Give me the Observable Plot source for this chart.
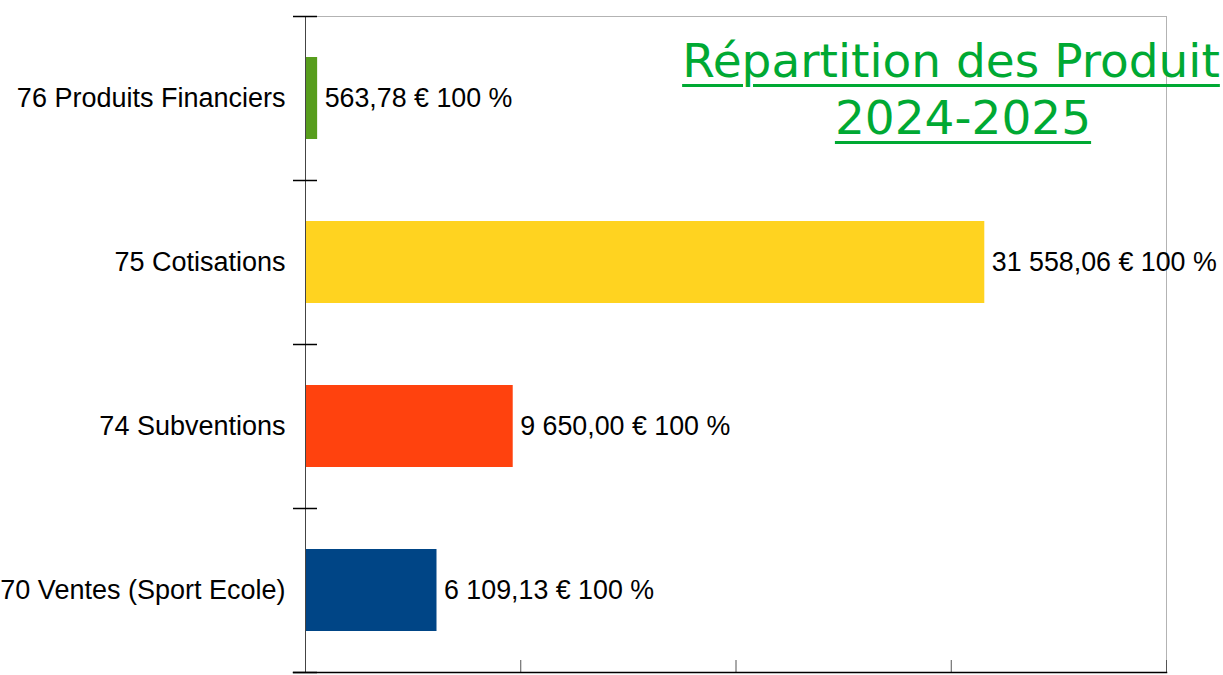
<!DOCTYPE html>
<html>
<head>
<meta charset="utf-8">
<script src="https://cdn.jsdelivr.net/npm/d3@7"></script>
<script src="https://cdn.jsdelivr.net/npm/@observablehq/plot@0.6"></script>
<style>
  html, body { margin: 0; padding: 0; background: #fff; }
  #wrap { position: relative; width: 1223px; height: 675px; overflow: hidden; }
  #title {
    position: absolute; left: 601px; width: 700px; top: 32px;
    text-align: center; font-family: "DejaVu Sans"; font-size: 47px; line-height: 57px;
    color: #00a933; text-decoration: underline; text-underline-offset: 7px; text-decoration-thickness: 3px;
    pointer-events: none;
  }
  #title span { display: block; }
  #title .l2 { position: relative; left: 12px; }
</style>
</head>
<body>
<div id="wrap">
  <div id="chart"></div>
  <div id="title"><span>Répartition des Produit</span><span class="l2">2024-2025</span></div>
</div>
<script>
const categories = ["76 Produits Financiers", "75 Cotisations", "74 Subventions", "70 Ventes (Sport Ecole)"];
const values = [563.78, 31558.06, 9650.00, 6109.13];
const shares = ["100 %", "100 %", "100 %", "100 %"];
const colors = ["#579d1c", "#ffd320", "#ff420e", "#004586"];
const xTicks = [0, 10000, 20000, 30000, 40000];

const fr = d3.formatLocale({decimal: ",", thousands: "\u00a0", grouping: [3], currency: ["", " €"]});
const fmt = fr.format(",.2f");

const data = categories.map((c, i) => ({cat: c, value: values[i], share: shares[i], color: colors[i]}));

const chart = Plot.plot({
  width: 1223,
  height: 675,
  marginLeft: 305,
  marginRight: 57,
  marginTop: 16,
  marginBottom: 3,
  style: {fontFamily: "Liberation Sans, Arial, sans-serif", background: "transparent"},
  x: {domain: [0, 40000]},
  y: {domain: categories, paddingInner: 0.5, paddingOuter: 0.25},
  marks: [
    Plot.frame({anchor: "top", stroke: "#b3b3b3", insetLeft: 12}),
    Plot.frame({anchor: "right", stroke: "#b3b3b3"}),
    Plot.barX(data, {x: "value", y: "cat", fill: "color"}),
    Plot.text(data, {x: "value", y: "cat", text: d => `${fmt(d.value)} € ${d.share}`, textAnchor: "start", dx: 7, fontSize: 26.8, fill: "#000"}),
    Plot.axisY({tickSize: 0, tickPadding: 20, fontSize: 27, fill: "#000", label: null}),
    Plot.axisX({ticks: xTicks, tickSize: -12, tickFormat: () => "", stroke: "#555", label: null}),
    Plot.frame({anchor: "left", stroke: "#444"}),
    Plot.frame({anchor: "bottom", stroke: "#000", strokeWidth: 1.5, insetLeft: -12}),
    Plot.ruleY(categories, {y: d => d, x1: 0, x2: 0, insetLeft: -12, insetRight: -12, dy: -82, stroke: "#000", strokeWidth: 1.5}),
    Plot.ruleY(categories.slice(-1), {y: d => d, x1: 0, x2: 0, insetLeft: -12, insetRight: -12, dy: 82, stroke: "#000", strokeWidth: 1.5})
  ]
});
document.getElementById("chart").appendChild(chart);
</script>
</body>
</html>
